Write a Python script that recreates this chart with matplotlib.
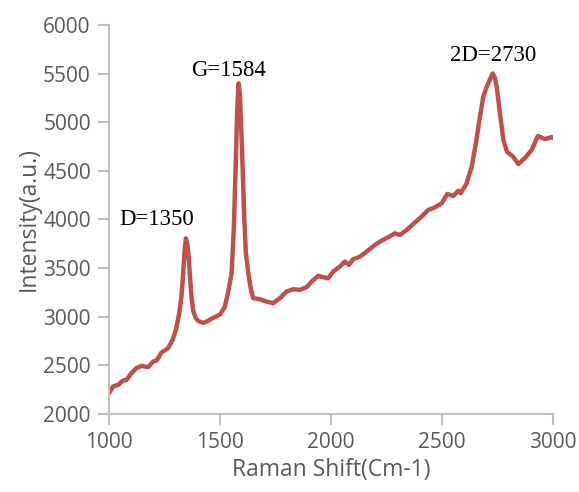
import numpy as np
import matplotlib.pyplot as plt

# Raman spectrum read point by point (shift in cm-1, intensity in a.u.)
shift = [1001, 1019, 1042, 1064, 1080, 1102, 1124, 1147, 1177, 1200, 1215, 1237, 1267, 1287, 1302,
         1317, 1327, 1334, 1342, 1347, 1353, 1360, 1365, 1372, 1380, 1390, 1400, 1410, 1425, 1440,
         1468, 1500, 1522, 1536, 1553, 1563, 1572, 1578, 1584, 1590, 1596, 1603, 1610, 1617, 1626,
         1638, 1650, 1680, 1710, 1740, 1770, 1800, 1830, 1860, 1890, 1913, 1943, 1965, 1988, 2010,
         2040, 2063, 2081, 2100, 2131, 2161, 2198, 2228, 2258, 2288, 2311, 2341, 2371, 2408, 2438,
         2469, 2499, 2524, 2551, 2574, 2584, 2611, 2634, 2653, 2671, 2686, 2701, 2716, 2728, 2738,
         2747, 2761, 2777, 2793, 2821, 2844, 2874, 2904, 2932, 2964, 2994, 3000]
intensity = [2213, 2281, 2298, 2342, 2350, 2418, 2470, 2493, 2480, 2538, 2548, 2630, 2675, 2760, 2863,
             3035, 3206, 3420, 3700, 3805, 3760, 3600, 3420, 3210, 3060, 2990, 2960, 2949, 2935, 2949,
             2985, 3020, 3100, 3240, 3450, 3922, 4611, 5125, 5400, 5300, 4950, 4500, 4000, 3655, 3480,
             3300, 3189, 3179, 3155, 3138, 3189, 3257, 3282, 3275, 3302, 3360, 3419, 3405, 3395, 3463,
             3514, 3566, 3532, 3590, 3617, 3669, 3737, 3781, 3816, 3857, 3840, 3891, 3953, 4028, 4097,
             4125, 4166, 4262, 4241, 4296, 4268, 4371, 4542, 4786, 5054, 5260, 5363, 5440, 5502, 5460,
             5363, 5095, 4817, 4696, 4645, 4570, 4632, 4714, 4858, 4827, 4848, 4840]

peak_labels = ['D=1350', 'G=1584', '2D=2730']
peak_pos = [(1216, 4000), (1541, 5530), (2730, 5690)]

fig = plt.figure(figsize=(5.79, 4.92), dpi=100)
ax = fig.add_axes([0.188, 0.159, 0.767, 0.790])

ax.plot(shift, intensity, color='#C0504D', lw=3.2, solid_joinstyle='round', solid_capstyle='round')

for lab, (px, py) in zip(peak_labels, peak_pos):
    ax.text(px, py, lab, ha='center', va='center', fontsize=16.5,
            family='Liberation Serif', color='black')

ax.set_xlim(1000, 3000)
ax.set_ylim(2000, 6000)
ax.set_xticks(np.arange(1000, 3001, 500))
ax.set_yticks(np.arange(2000, 6001, 500))

for s in ['top', 'right']:
    ax.spines[s].set_visible(False)
for s in ['left', 'bottom']:
    ax.spines[s].set_color('#BFBFBF')
    ax.spines[s].set_linewidth(1.5)
ax.tick_params(labelcolor='#595959', color='#BFBFBF', length=8, width=1.5,
               labelsize=15, direction='out', pad=5)
for t in ax.get_xticklabels() + ax.get_yticklabels():
    t.set_family('Open Sans')

ax.set_xlabel('Raman Shift(Cm-1)', fontsize=16.5, color='#595959', family='Open Sans', labelpad=4)
ax.set_ylabel('Intensity(a.u.)', fontsize=16.5, color='#595959', family='Open Sans', labelpad=2)

fig.savefig('out.png', dpi=100)
